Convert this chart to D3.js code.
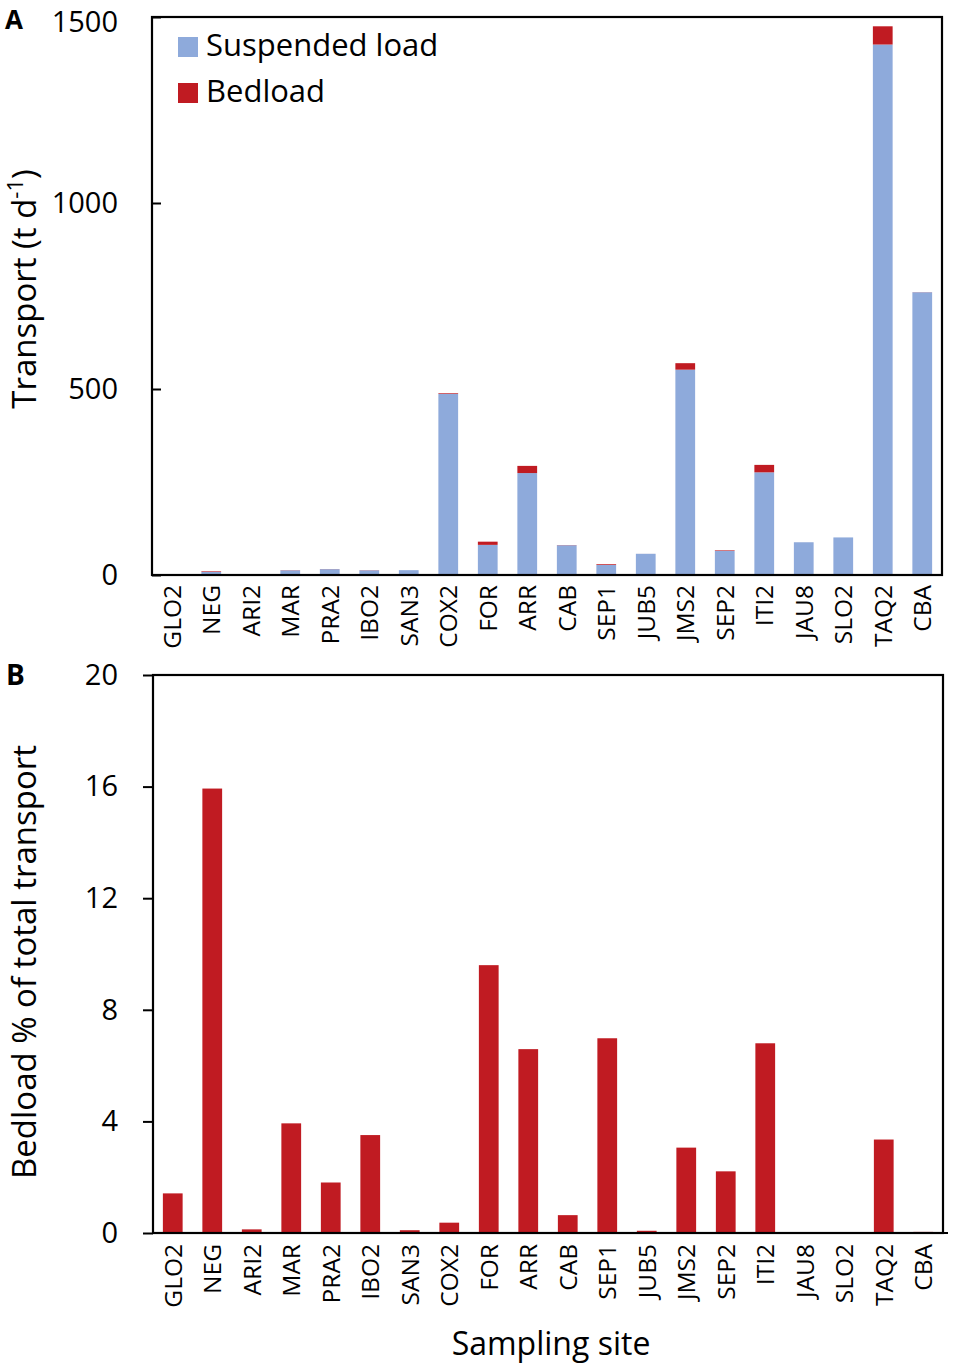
<!doctype html>
<html>
<head>
  <script src="https://d3js.org/d3.v7.min.js"></script>
</head>
<style>
  body {
    margin: 0;
    background: #fff;
  }

  svg text {
    font-family: "Open Sans", sans-serif;
    fill: #000;
  }
</style>
<body>
<svg></svg>

<script>
  const sites = ["GLO2", "NEG", "ARI2", "MAR", "PRA2", "IBO2", "SAN3", "COX2", "FOR", "ARR",
    "CAB", "SEP1", "JUB5", "JMS2", "SEP2", "ITI2", "JAU8", "SLO2", "TAQ2", "CBA"];
  // t d-1
  const suspendedLoad = [2, 8.4, 2, 12.5, 15.7, 12.5, 13, 487, 81, 274,
    80, 27, 57, 552, 65, 276, 88, 101, 1426, 760];
  const bedload = [0.03, 1.6, 0.003, 0.5, 0.3, 0.45, 0.01, 1.8, 8.6, 19.3,
    0.5, 2, 0.05, 17.4, 1.5, 20, 0.03, 0.01, 49, 0.3];
  // % of total transport
  const bedloadPct = [1.42, 15.93, 0.13, 3.93, 1.81, 3.51, 0.1, 0.37, 9.6, 6.59,
    0.64, 6.98, 0.08, 3.06, 2.21, 6.8, 0.03, 0.01, 3.35, 0.04];
  const transportTicks = [0, 500, 1000, 1500];
  const pctTicks = [0, 4, 8, 12, 16, 20];

  const blue = "#8eaadb";
  const red = "#c01b22";

  const width = 955, height = 1366;
  const svg = d3.select("svg")
    .attr("width", width)
    .attr("height", height);

  // ---- panel A: stacked transport ----
  const a = {left: 152, right: 942, top: 17, bottom: 575};
  const xA = d3.scaleBand()
    .domain(sites)
    .range([a.left, a.right])
    .paddingInner(0.5)
    .paddingOuter(0.25);
  const yA = d3.scaleLinear()
    .domain([0, 1500])
    .range([a.bottom, a.top]);

  const stackRows = sites.map(function (s, i) {
    return {site: s, suspended: suspendedLoad[i], bed: bedload[i]};
  });
  const stacked = d3.stack().keys(["suspended", "bed"])(stackRows);
  const stackColor = {suspended: blue, bed: red};

  svg.append("g")
    .selectAll("g")
    .data(stacked)
    .join("g")
    .attr("fill", d => stackColor[d.key])
    .selectAll("rect")
    .data(d => d)
    .join("rect")
    .attr("x", d => xA(d.data.site))
    .attr("width", xA.bandwidth())
    .attr("y", d => yA(d[1]))
    .attr("height", d => Math.max(yA(d[0]) - yA(d[1]), 0));

  const axisA = svg.append("g")
    .attr("transform", `translate(${a.left},0)`)
    .call(d3.axisLeft(yA).tickValues(transportTicks).tickFormat(d3.format("d"))
      .tickSize(-9).tickPadding(34));
  axisA.select(".domain").remove();
  axisA.selectAll("line").attr("stroke-width", 2);
  axisA.selectAll("text")
    .attr("font-size", 29)
    .attr("font-family", "Open Sans, sans-serif");
  // keep the top label inside the page
  axisA.selectAll("text").filter(d => d === 1500).attr("y", 5);

  svg.append("rect")
    .attr("x", a.left)
    .attr("y", a.top)
    .attr("width", a.right - a.left)
    .attr("height", a.bottom - a.top)
    .attr("fill", "none")
    .attr("stroke", "#000")
    .attr("stroke-width", 2.2);

  svg.append("g")
    .selectAll("text")
    .data(sites)
    .join("text")
    .attr("transform", d => `translate(${xA(d) + xA.bandwidth() / 2},${a.bottom}) rotate(-90)`)
    .attr("x", -10)
    .attr("dy", "0.36em")
    .attr("text-anchor", "end")
    .attr("font-size", 24.5)
    .text(d => d);

  const titleA = svg.append("text")
    .attr("transform", `translate(36,289) rotate(-90)`)
    .attr("text-anchor", "middle")
    .attr("font-size", 33);
  titleA.append("tspan").text("Transport (t d");
  titleA.append("tspan").attr("font-size", 22).attr("dy", -13).text("-1");
  titleA.append("tspan").attr("dy", 13).text(")");

  svg.append("text")
    .attr("x", 5)
    .attr("y", 29)
    .attr("font-size", 26)
    .attr("font-weight", "bold")
    .text("A");

  const legendItems = [["Suspended load", blue], ["Bedload", red]];
  const legend = svg.append("g")
    .selectAll("g")
    .data(legendItems)
    .join("g")
    .attr("transform", (d, i) => `translate(178,${37 + i * 46})`);
  legend.append("rect")
    .attr("width", 20)
    .attr("height", 20)
    .attr("fill", d => d[1]);
  legend.append("text")
    .attr("x", 28)
    .attr("y", 19)
    .attr("font-size", 31)
    .text(d => d[0]);

  // ---- panel B: bedload share ----
  const b = {left: 153, right: 943, top: 675, bottom: 1233};
  const xB = d3.scaleBand()
    .domain(sites)
    .range([b.left, b.right])
    .paddingInner(0.5)
    .paddingOuter(0.25);
  const yB = d3.scaleLinear()
    .domain([0, 20])
    .range([b.bottom, b.top]);

  svg.append("g")
    .attr("fill", red)
    .selectAll("rect")
    .data(sites)
    .join("rect")
    .attr("x", d => xB(d))
    .attr("width", xB.bandwidth())
    .attr("y", (d, i) => yB(bedloadPct[i]))
    .attr("height", (d, i) => yB(0) - yB(bedloadPct[i]));

  const axisB = svg.append("g")
    .attr("transform", `translate(${b.left},0)`)
    .call(d3.axisLeft(yB).tickValues(pctTicks).tickSize(10).tickPadding(25));
  axisB.select(".domain").remove();
  axisB.selectAll("line").attr("stroke-width", 2);
  axisB.selectAll("text")
    .attr("font-size", 29)
    .attr("font-family", "Open Sans, sans-serif");

  svg.append("rect")
    .attr("x", b.left)
    .attr("y", b.top)
    .attr("width", b.right - b.left)
    .attr("height", b.bottom - b.top)
    .attr("fill", "none")
    .attr("stroke", "#000")
    .attr("stroke-width", 2.2);
  svg.append("line")
    .attr("x1", b.left)
    .attr("x2", b.right + 5)
    .attr("y1", b.bottom)
    .attr("y2", b.bottom)
    .attr("stroke", "#000")
    .attr("stroke-width", 2.2);

  svg.append("g")
    .selectAll("text")
    .data(sites)
    .join("text")
    .attr("transform", d => `translate(${xB(d) + xB.bandwidth() / 2},${b.bottom}) rotate(-90)`)
    .attr("x", -11)
    .attr("dy", "0.36em")
    .attr("text-anchor", "end")
    .attr("font-size", 24.5)
    .text(d => d);

  svg.append("text")
    .attr("transform", `translate(36,${(b.top + b.bottom) / 2 + 8}) rotate(-90)`)
    .attr("text-anchor", "middle")
    .attr("font-size", 33)
    .text("Bedload % of total transport");

  svg.append("text")
    .attr("x", 6)
    .attr("y", 685)
    .attr("font-size", 28)
    .attr("font-weight", "bold")
    .text("B");

  svg.append("text")
    .attr("x", (b.left + b.right) / 2 + 3)
    .attr("y", 1355)
    .attr("text-anchor", "middle")
    .attr("font-size", 32)
    .text("Sampling site");
</script>
</body>
</html>
